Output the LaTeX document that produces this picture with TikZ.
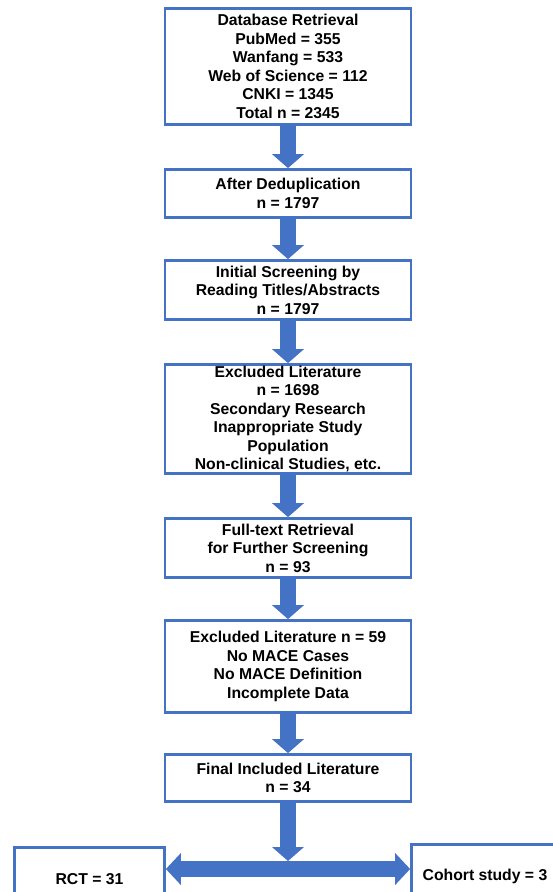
\documentclass[tikz,border=0pt]{standalone}
\usepackage{fontspec}
\setmainfont{Liberation Sans}
\usetikzlibrary{arrows.meta}
\definecolor{boxblue}{HTML}{4472C4}

\begin{document}
\begin{tikzpicture}[x=1bp,y=-1bp,
        box node/.style={rectangle,draw=boxblue,line width=2.8bp,fill=white,inner sep=0pt,minimum width=246bp,align=center,font=\bfseries\fontsize{15.8}{18.6}\selectfont},
        flow/.style={draw=boxblue,line width=16bp,-{Triangle[length=14bp,width=32bp,line width=0pt]}},
        split flow/.style={draw=boxblue,line width=16bp,{Triangle[length=15bp,width=32bp,line width=0pt]}-{Triangle[length=15bp,width=32bp,line width=0pt]}}]
        \clip (0,0) rectangle (553,892);
        \node[box node, minimum height=116bp] at (288, 66.5) (db) {Database Retrieval\\PubMed = 355\\Wanfang = 533\\Web of Science = 112\\CNKI = 1345\\Total n = 2345};
        \node[box node, minimum height=48bp] at (288, 193.5) (dedup) {After Deduplication\\n = 1797};
        \node[box node, minimum height=59bp] at (288, 290) (screen) {Initial Screening by\\Reading Titles/Abstracts\\n = 1797};
        \node[box node, minimum height=109bp] at (288, 419) (excl1) {Excluded Literature\\n = 1698\\Secondary Research\\Inappropriate Study\\Population\\Non-clinical Studies, etc.};
        \node[box node, minimum height=59bp] at (288, 548) (full) {Full-text Retrieval\\for Further Screening\\n = 93};
        \node[box node, minimum height=92bp] at (288, 666.5) (excl2) {Excluded Literature n = 59\\No MACE Cases\\No MACE Definition\\Incomplete Data};
        \node[box node, minimum height=47bp] at (288, 778) (final) {Final Included Literature\\n = 34};
        \node[box node, minimum width=150bp, minimum height=63bp] at (89.5, 879) (rct) {RCT = 31};
        \node[box node, minimum width=147bp, minimum height=63bp] at (485, 876) (cohort) {Cohort study = 3};
        \coordinate (split) at (288, 869);
        \coordinate (join) at (288, 861);

        \path
            (db) edge[flow] (dedup)
            (dedup) edge[flow] (screen)
            (screen) edge[flow] (excl1)
            (excl1) edge[flow] (full)
            (full) edge[flow] (excl2)
            (excl2) edge[flow] (final)
            (final) edge[flow] (join)
            (rct.east |- split) edge[split flow] (cohort.west |- split)
            ;
\end{tikzpicture}
\end{document}
